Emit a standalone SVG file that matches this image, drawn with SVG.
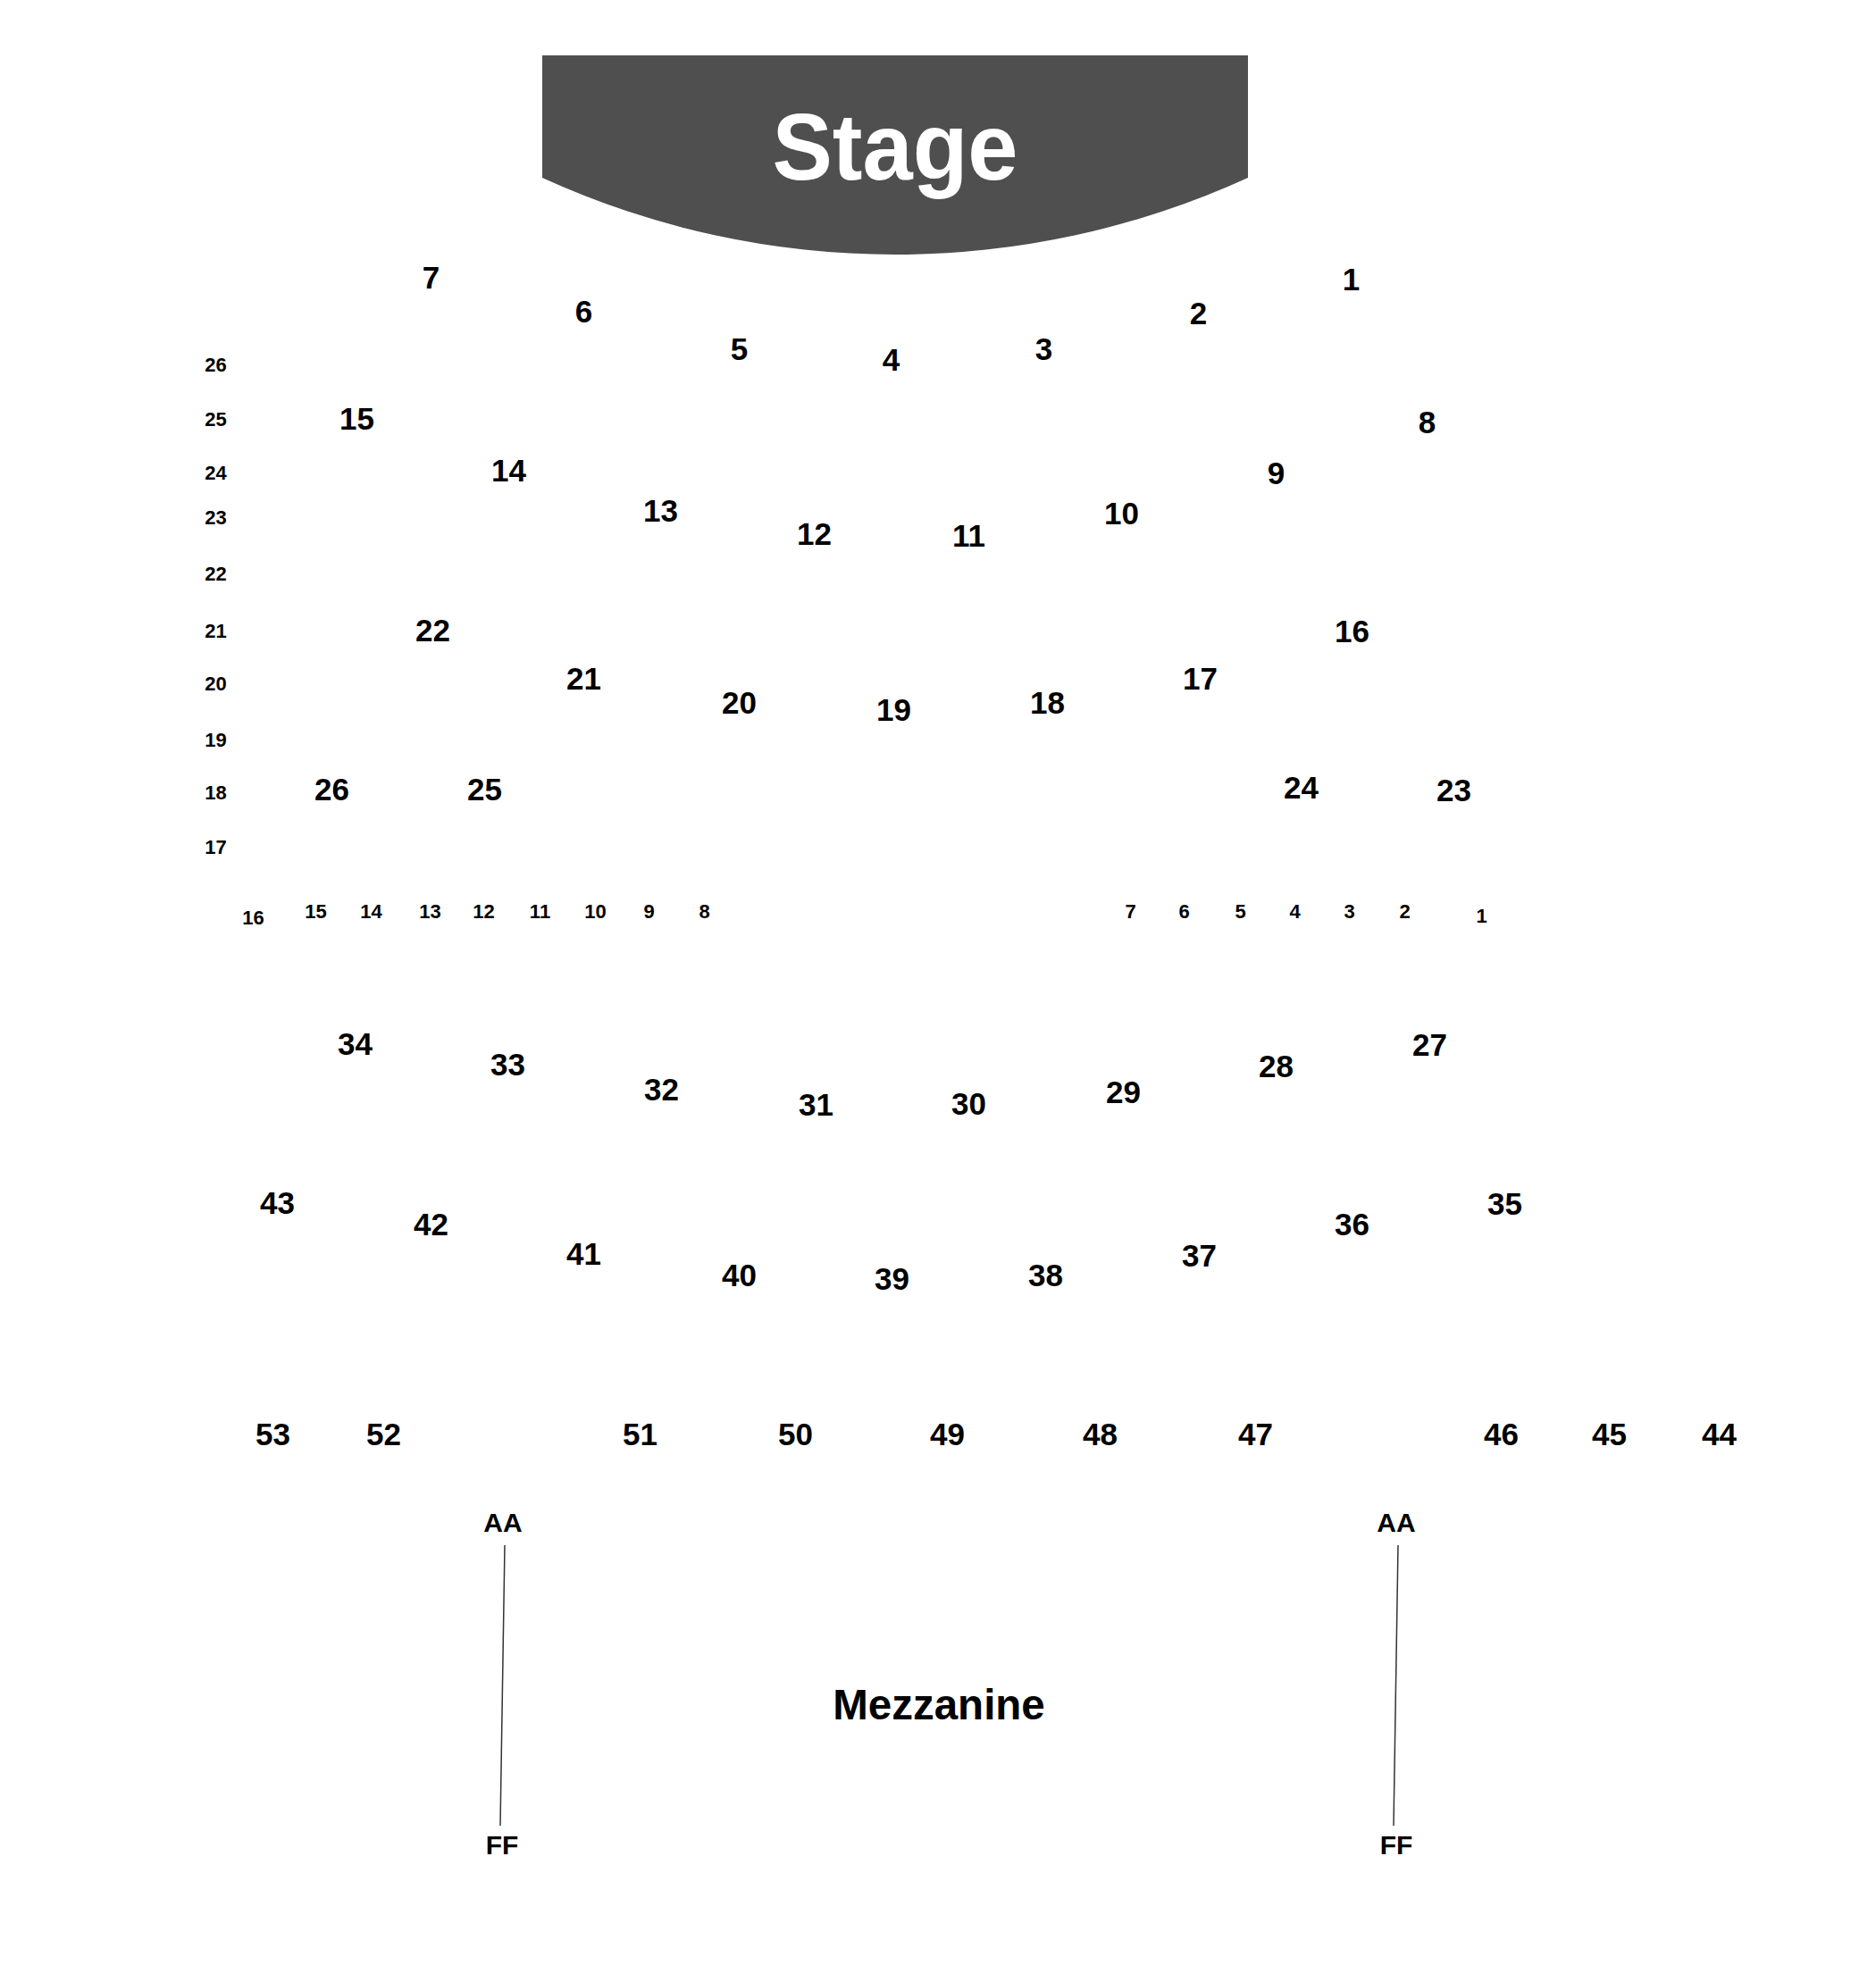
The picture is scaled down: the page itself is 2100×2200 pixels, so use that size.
<svg xmlns="http://www.w3.org/2000/svg" width="2100" height="2200" viewBox="0 0 2100 2200">
<style>
text{font-family:"Liberation Sans",Arial,sans-serif;font-weight:bold;text-anchor:middle;fill:#000}
.sec{font-size:35px}
.row{font-size:22px}
.aisle{font-size:30px}
.title{font-size:47.5px}
.stage-t{font-size:106px;fill:#fff}
.conn{stroke:#333;stroke-width:1.5;fill:none}
</style>
<rect width="2100" height="2200" fill="#fff"/>
<g id="stage">
<path d="M607,62 H1397 V199 A950,950 0 0 1 607,199 Z" fill="#4f4f4f"/>
<text class="stage-t" x="1002" y="201" textLength="275" lengthAdjust="spacingAndGlyphs">Stage</text>
</g>
<g id="sections" transform="translate(1.5,-1)">
<g id="s7"><text class="sec" x="481" y="324">7</text></g>
<g id="s6"><text class="sec" x="652" y="362">6</text></g>
<g id="s5"><text class="sec" x="826" y="404">5</text></g>
<g id="s4"><text class="sec" x="996" y="416">4</text></g>
<g id="s3"><text class="sec" x="1167" y="404">3</text></g>
<g id="s2"><text class="sec" x="1340" y="364">2</text></g>
<g id="s1"><text class="sec" x="1511" y="326">1</text></g>
<g id="s15"><text class="sec" x="398" y="482">15</text></g>
<g id="s14"><text class="sec" x="568" y="540">14</text></g>
<g id="s13"><text class="sec" x="738" y="585">13</text></g>
<g id="s12"><text class="sec" x="910" y="611">12</text></g>
<g id="s11"><text class="sec" x="1083" y="613">11</text></g>
<g id="s10"><text class="sec" x="1254" y="588">10</text></g>
<g id="s9"><text class="sec" x="1427" y="543">9</text></g>
<g id="s8"><text class="sec" x="1596" y="486">8</text></g>
<g id="s22"><text class="sec" x="483" y="719">22</text></g>
<g id="s21"><text class="sec" x="652" y="773">21</text></g>
<g id="s20"><text class="sec" x="826" y="800">20</text></g>
<g id="s19"><text class="sec" x="999" y="808">19</text></g>
<g id="s18"><text class="sec" x="1171" y="800">18</text></g>
<g id="s17"><text class="sec" x="1342" y="773">17</text></g>
<g id="s16"><text class="sec" x="1512" y="720">16</text></g>
<g id="s26"><text class="sec" x="370" y="897">26</text></g>
<g id="s25"><text class="sec" x="541" y="897">25</text></g>
<g id="s24"><text class="sec" x="1455" y="895">24</text></g>
<g id="s23"><text class="sec" x="1626" y="898">23</text></g>
<g id="s34"><text class="sec" x="396" y="1182">34</text></g>
<g id="s33"><text class="sec" x="567" y="1205">33</text></g>
<g id="s32"><text class="sec" x="739" y="1233">32</text></g>
<g id="s31"><text class="sec" x="912" y="1250">31</text></g>
<g id="s30"><text class="sec" x="1083" y="1249">30</text></g>
<g id="s29"><text class="sec" x="1256" y="1236">29</text></g>
<g id="s28"><text class="sec" x="1427" y="1207">28</text></g>
<g id="s27"><text class="sec" x="1599" y="1183">27</text></g>
<g id="s43"><text class="sec" x="309" y="1360">43</text></g>
<g id="s42"><text class="sec" x="481" y="1384">42</text></g>
<g id="s41"><text class="sec" x="652" y="1417">41</text></g>
<g id="s40"><text class="sec" x="826" y="1441">40</text></g>
<g id="s39"><text class="sec" x="997" y="1445">39</text></g>
<g id="s38"><text class="sec" x="1169" y="1441">38</text></g>
<g id="s37"><text class="sec" x="1341" y="1419">37</text></g>
<g id="s36"><text class="sec" x="1512" y="1384">36</text></g>
<g id="s35"><text class="sec" x="1683" y="1361">35</text></g>
<g id="s53"><text class="sec" x="304" y="1619">53</text></g>
<g id="s52"><text class="sec" x="428" y="1619">52</text></g>
<g id="s51"><text class="sec" x="715" y="1619">51</text></g>
<g id="s50"><text class="sec" x="889" y="1619">50</text></g>
<g id="s49"><text class="sec" x="1059" y="1619">49</text></g>
<g id="s48"><text class="sec" x="1230" y="1619">48</text></g>
<g id="s47"><text class="sec" x="1404" y="1619">47</text></g>
<g id="s46"><text class="sec" x="1679" y="1619">46</text></g>
<g id="s45"><text class="sec" x="1800" y="1619">45</text></g>
<g id="s44"><text class="sec" x="1923" y="1619">44</text></g>
</g>
<g id="row-labels-left" transform="translate(1.5,0)">
<text class="row" x="240" y="416">26</text>
<text class="row" x="240" y="477">25</text>
<text class="row" x="240" y="537">24</text>
<text class="row" x="240" y="587">23</text>
<text class="row" x="240" y="650">22</text>
<text class="row" x="240" y="714">21</text>
<text class="row" x="240" y="773">20</text>
<text class="row" x="240" y="836">19</text>
<text class="row" x="240" y="895">18</text>
<text class="row" x="240" y="956">17</text>
</g>
<g id="row-labels-bottom" transform="translate(1.5,0)">
<text class="row" x="282" y="1035">16</text>
<text class="row" x="352" y="1028">15</text>
<text class="row" x="414" y="1028">14</text>
<text class="row" x="480" y="1028">13</text>
<text class="row" x="540" y="1028">12</text>
<text class="row" x="603" y="1028">11</text>
<text class="row" x="665" y="1028">10</text>
<text class="row" x="725" y="1028">9</text>
<text class="row" x="787" y="1028">8</text>
<text class="row" x="1264" y="1028">7</text>
<text class="row" x="1324" y="1028">6</text>
<text class="row" x="1387" y="1028">5</text>
<text class="row" x="1448" y="1028">4</text>
<text class="row" x="1509" y="1028">3</text>
<text class="row" x="1571" y="1028">2</text>
<text class="row" x="1657" y="1033">1</text>
</g>
<g id="aisle-left">
<text class="aisle" x="563" y="1715">AA</text>
<text class="aisle" x="562" y="2076">FF</text>
</g>
<g id="aisle-right">
<text class="aisle" x="1563" y="1715">AA</text>
<text class="aisle" x="1563" y="2076">FF</text>
</g>
<g id="mezzanine"><text class="title" x="1051" y="1925">Mezzanine</text></g>
<g id="connectors">
<line class="conn" x1="565" y1="1730" x2="560" y2="2044"/>
<line class="conn" x1="1565" y1="1730" x2="1560" y2="2044"/>
</g>
</svg>
